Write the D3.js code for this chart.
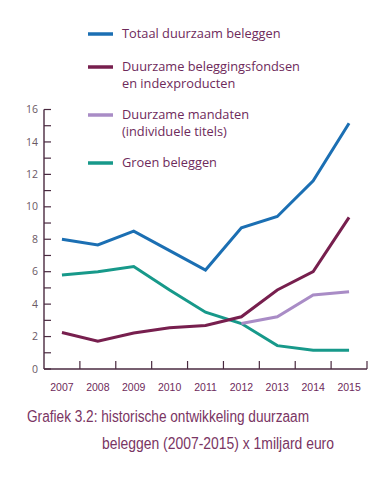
<!DOCTYPE html>
<html><head><meta charset="utf-8">
<script src="https://cdn.jsdelivr.net/npm/d3@7"></script>
<style>body{margin:0;background:#fff}svg{display:block}</style>
</head><body>
<script>
const years = ["2007","2008","2009","2010","2011","2012","2013","2014","2015"];
const totaal = [8.0, 7.65, 8.5, 7.3, 6.1, 8.7, 9.4, 11.6, 15.15];
const fondsen = [2.25, 1.72, 2.22, 2.55, 2.68, 3.22, 4.87, 6.0, 9.35];
const mandaten = [null, null, null, null, null, 2.8, 3.22, 4.56, 4.77];
const groen = [5.8, 6.0, 6.32, 4.87, 3.5, 2.8, 1.44, 1.15, 1.15];
const yTicks = [0,2,4,6,8,10,12,14,16];
const seriesNames = ["Totaal duurzaam beleggen", "Duurzame beleggingsfondsen\nen indexproducten", "Duurzame mandaten\n(individuele titels)", "Groen beleggen"];
const colors = ["#1b6fb3", "#771f4e", "#a98cc6", "#17998a"];
const caption1 = "Grafiek 3.2: historische ontwikkeling duurzaam";
const caption2 = "beleggen (2007-2015) x 1miljard euro";

const W = 381, H = 479;
const svg = d3.select("body").append("svg").attr("width", W).attr("height", H);
const textCol = "#6e2a5b", axisCol = "#4a2a40";

const x = d3.scaleBand().domain(years).range([44, 367]);
const y = d3.scaleLinear().domain([0, 16]).range([369, 109.5]);

// lines
const series = [totaal, fondsen, mandaten, groen];
const line = d3.line().defined(d => d[1] != null)
  .x(d => x(d[0]) + x.bandwidth()/2).y(d => y(d[1]));
[3,2,1,0].forEach(i => {
  svg.append("path").datum(years.map((yr,j)=>[yr, series[i][j]]))
    .attr("d", line).attr("fill","none").attr("stroke", colors[i])
    .attr("stroke-width", 3).attr("stroke-linejoin","miter");
});

// y axis
const yAxis = svg.append("g");
yAxis.append("line").attr("x1",44).attr("x2",44).attr("y1",y(16)).attr("y2",369)
  .attr("stroke",axisCol).attr("stroke-width",1.4);
d3.range(0,17).forEach(v=>{
  yAxis.append("line").attr("x1",44).attr("x2",51).attr("y1",y(v)).attr("y2",y(v))
    .attr("stroke",axisCol).attr("stroke-width",1.2);
});
yAxis.selectAll("text").data(yTicks).join("text")
  .attr("x",38).attr("y",d=>y(d)).attr("dy","0.35em").attr("text-anchor","end")
  .attr("font-family","Open Sans").attr("font-size",10.5).attr("fill","#6a5864")
  .text(d=>d);

// x axis
const xAxis = svg.append("g");
xAxis.append("line").attr("x1",44).attr("x2",367).attr("y1",369).attr("y2",369)
  .attr("stroke",axisCol).attr("stroke-width",1.4);
years.forEach(yr=>{
  const xx = x(yr) + x.bandwidth();
  xAxis.append("line").attr("x1",xx).attr("x2",xx).attr("y1",369).attr("y2",361)
    .attr("stroke",axisCol).attr("stroke-width",1.2);
});
xAxis.selectAll("text").data(years).join("text")
  .attr("x",d=>x(d)+x.bandwidth()/2).attr("y",391).attr("text-anchor","middle")
  .attr("font-family","Liberation Sans").attr("font-size",10.5).attr("fill",textCol)
  .text(d=>d);

// legend
const legY = [34, 67, 115, 163];
seriesNames.forEach((name,i)=>{
  svg.append("line").attr("x1",88).attr("x2",113).attr("y1",legY[i]).attr("y2",legY[i])
    .attr("stroke",colors[i]).attr("stroke-width",3.5);
  name.split("\n").forEach((t,k)=>{
    svg.append("text").attr("x",122).attr("y",legY[i]+16.5*k).attr("dy","0.35em")
      .attr("font-family","Open Sans").attr("font-size",12.8).attr("fill",textCol).text(t);
  });
});

// caption
svg.append("text").attr("x",27).attr("y",422).attr("font-family","Liberation Sans Narrow, Liberation Sans")
  .attr("font-size",16).attr("fill","#7a3563").attr("textLength",282).attr("lengthAdjust","spacingAndGlyphs").text(caption1);
svg.append("text").attr("x",102).attr("y",449).attr("font-family","Liberation Sans Narrow, Liberation Sans")
  .attr("font-size",16).attr("fill","#7a3563").attr("textLength",232).attr("lengthAdjust","spacingAndGlyphs").text(caption2);
</script>
</body></html>
